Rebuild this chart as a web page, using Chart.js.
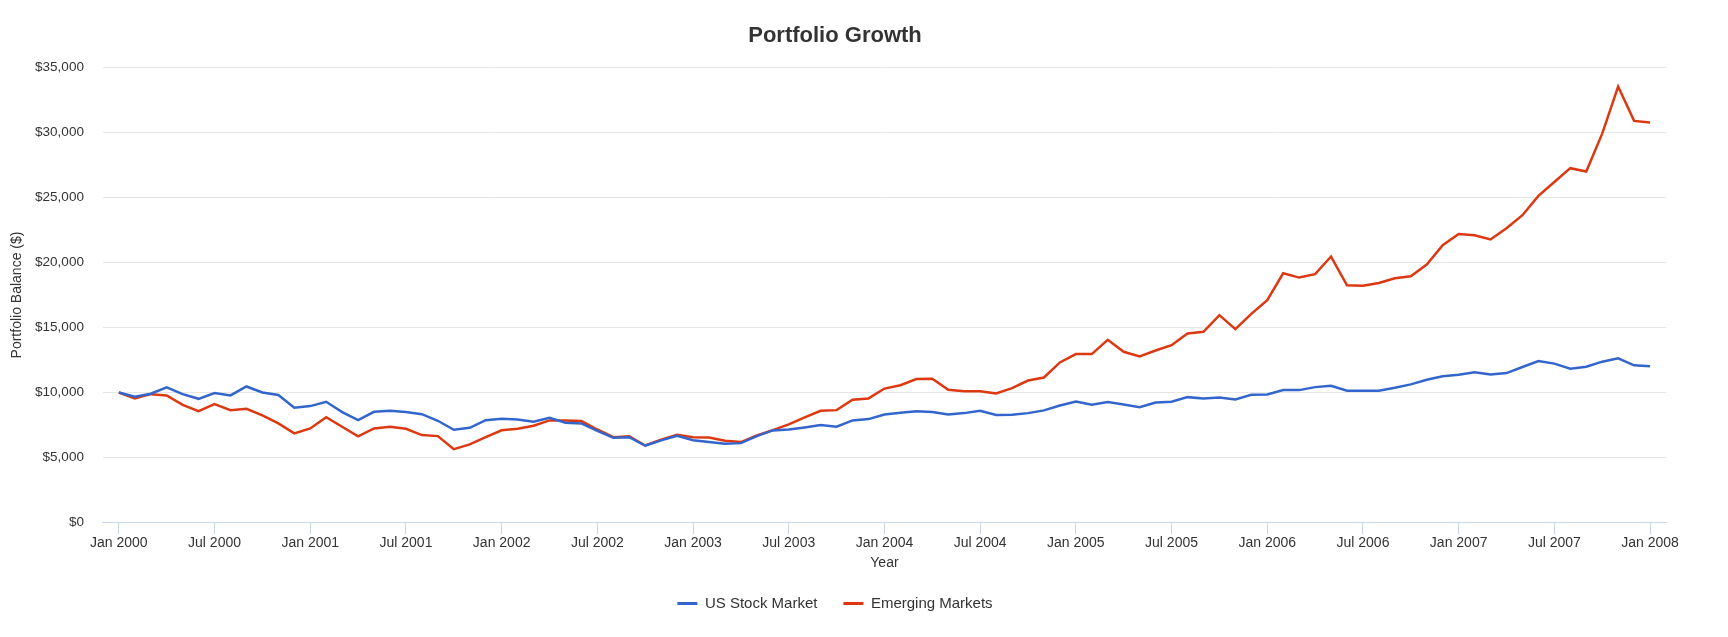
<!DOCTYPE html>
<html>
<head>
<meta charset="utf-8">
<script src="https://cdn.jsdelivr.net/npm/chart.js@4.4.1/dist/chart.umd.min.js"></script>
<style>
html,body{margin:0;padding:0;background:#ffffff;}
#wrap{position:relative;width:1728px;height:637px;}
</style>
</head>
<body>
<div id="wrap"><canvas id="c"></canvas></div>
<script>
// ---- categories ----
const years = [2000, 2001, 2002, 2003, 2004, 2005, 2006, 2007, 2008];
const monthNames = ["Jan","Feb","Mar","Apr","May","Jun","Jul","Aug","Sep","Oct","Nov","Dec"];
const months = [];
years.forEach(y => monthNames.forEach(m => { if (months.length < 97) months.push(m + " " + y); }));

// ---- tick labels ----
const tickLabels = ["Jan 2000","Jul 2000","Jan 2001","Jul 2001","Jan 2002","Jul 2002","Jan 2003","Jul 2003",
  "Jan 2004","Jul 2004","Jan 2005","Jul 2005","Jan 2006","Jul 2006","Jan 2007","Jul 2007","Jan 2008"];
const yTicks = [0, 5000, 10000, 15000, 20000, 25000, 30000, 35000];

// ---- series values (Jan 2000 .. Jan 2008, monthly) ----
const usStock = [
  10000, 9670, 9900, 10390, 9870, 9510, 9950, 9770, 10460, 10000, 9800, 8820,
  8950, 9280, 8490, 7870, 8510, 8590, 8490, 8330, 7820, 7130, 7280, 7870,
  7980, 7920, 7740, 8050, 7670, 7620, 7050, 6510, 6560, 5900, 6310, 6670,
  6330, 6180, 6050, 6100, 6640, 7080, 7150, 7310, 7490, 7360, 7850, 7950,
  8300, 8440, 8560, 8490, 8310, 8410, 8590, 8260, 8280, 8410, 8620, 9000,
  9310, 9050, 9260, 9080, 8870, 9230, 9280, 9640, 9540, 9620, 9460, 9820,
  9850, 10180, 10180, 10410, 10520, 10130, 10130, 10130, 10360, 10620, 10980, 11240,
  11370, 11550, 11390, 11490, 11960, 12420, 12220, 11830, 11980, 12370, 12630, 12090,
  12010
];
const emerging = [
  10000, 9540, 9870, 9770, 9050, 8560, 9100, 8640, 8740, 8230, 7620, 6850,
  7230, 8100, 7360, 6620, 7230, 7360, 7200, 6720, 6640, 5640, 6000, 6560,
  7090, 7210, 7440, 7850, 7850, 7800, 7150, 6560, 6620, 5920, 6360, 6740,
  6560, 6540, 6280, 6180, 6690, 7100, 7540, 8080, 8590, 8640, 9440, 9540,
  10300, 10560, 11030, 11050, 10200, 10100, 10100, 9920, 10330, 10920, 11150, 12310,
  12950, 12950, 14050, 13130, 12770, 13230, 13640, 14540, 14670, 15950, 14870, 16050,
  17100, 19170, 18840, 19100, 20460, 18250, 18220, 18430, 18790, 18940, 19850, 21340,
  22200, 22100, 21770, 22640, 23640, 25130, 26200, 27260, 27000, 29920, 33540, 30900,
  30770
];
const seriesNames = ["US Stock Market", "Emerging Markets"];
const seriesColors = ["#3366cc", "#dc3912"];

Chart.defaults.font.family = "'Liberation Sans', Arial, Helvetica, sans-serif";
Chart.defaults.color = "#333333";

const toPoints = arr => arr.map((v, i) => ({ x: i, y: v }));

new Chart(document.getElementById("c"), {
  type: "line",
  data: {
    datasets: [
      { label: seriesNames[0], data: toPoints(usStock), borderColor: seriesColors[0], backgroundColor: seriesColors[0],
        borderWidth: 2.5, pointRadius: 0, pointHoverRadius: 0, tension: 0, fill: false },
      { label: seriesNames[1], data: toPoints(emerging), borderColor: seriesColors[1], backgroundColor: seriesColors[1],
        borderWidth: 2.5, pointRadius: 0, pointHoverRadius: 0, tension: 0, fill: false }
    ]
  },
  options: {
    responsive: true,
    maintainAspectRatio: false,
    animation: false,
    layout: { padding: { left: 4, right: 62, top: 10, bottom: 16 } },
    plugins: {
      title: {
        display: true,
        text: "Portfolio Growth",
        color: "#333333",
        font: { size: 22, weight: "bold" },
        padding: { top: 13, bottom: 18.2 }
      },
      legend: {
        position: "bottom",
        labels: {
          boxWidth: 20,
          boxHeight: 3,
          padding: 26,
          color: "#333333",
          font: { size: 15 },
          generateLabels: chart => Chart.defaults.plugins.legend.labels.generateLabels(chart)
            .map(l => Object.assign(l, { lineWidth: 0 }))
        }
      },
      tooltip: { enabled: false }
    },
    scales: {
      x: {
        type: "linear",
        min: -1,
        max: months.length,
        afterBuildTicks: axis => { axis.ticks = tickLabels.map(l => ({ value: months.indexOf(l) })); },
        grid: { drawOnChartArea: false, drawTicks: true, tickLength: 12, color: "#ccd6eb", lineWidth: 1 },
        border: { display: true, color: "#ccd6eb", width: 1 },
        ticks: {
          autoSkip: false, maxRotation: 0, padding: 0, color: "#333333", font: { size: 14 },
          callback: v => months[v]
        },
        title: { display: true, text: "Year", color: "#333333", font: { size: 14 }, padding: { top: 4, bottom: -2 } }
      },
      y: {
        min: yTicks[0],
        max: yTicks[yTicks.length - 1],
        afterBuildTicks: axis => { axis.ticks = yTicks.map(v => ({ value: v })); },
        grid: { color: ctx => (ctx.tick && ctx.tick.value === 0 ? "#ccd6eb" : "#e6e6e6"), drawTicks: false, lineWidth: 1 },
        border: { display: false },
        ticks: {
          padding: 19, color: "#333333", font: { size: 13.5 },
          callback: v => "$" + Number(v).toLocaleString("en-US")
        },
        title: { display: true, text: "Portfolio Balance ($)", color: "#333333", font: { size: 14 }, padding: { top: 4.6, bottom: -9.3 } }
      }
    }
  }
});
</script>
</body>
</html>
